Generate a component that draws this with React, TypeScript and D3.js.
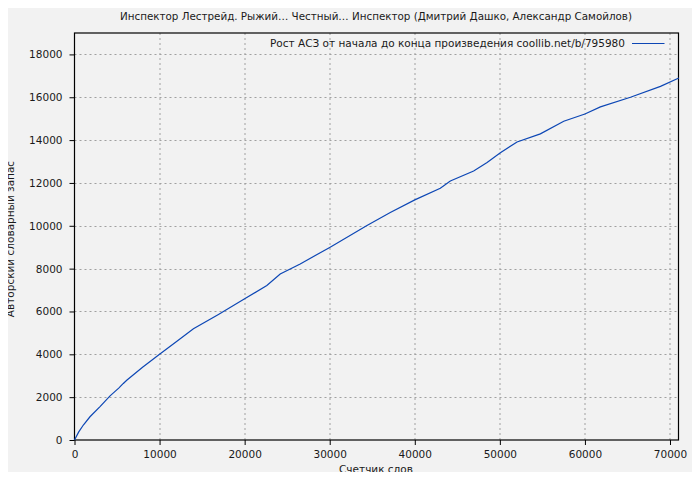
import React, { useEffect, useRef } from "react";
import * as d3 from "d3";

const title =
  "Инспектор Лестрейд. Рыжий… Честный… Инспектор (Дмитрий Дашко, Александр Самойлов)";
const legendLabel = "Рост АСЗ от начала до конца произведения coollib.net/b/795980";
const xLabel = "Счетчик слов";
const yLabel = "Авторский словарный запас";

// words counted so far -> distinct words
const wordCount = [
  0, 500, 1040, 1820, 3000, 4180, 5200, 5740, 6140, 8000, 10000, 12000,
  13980, 16920, 20000, 22610, 24180, 26530, 30000, 34380, 37120, 40000,
  43000, 44180, 46920, 48500, 50060, 52020, 54760, 57510, 60000, 61820,
  65350, 68880, 71040,
];
const vocabulary = [
  0, 380, 700, 1085, 1560, 2060, 2420, 2640, 2790, 3400, 4000, 4600,
  5190, 5860, 6590, 7210, 7750, 8220, 8990, 10010, 10620, 11210,
  11750, 12090, 12560, 12950, 13410, 13910, 14290, 14880, 15220, 15550,
  16000, 16510, 16900,
];

const xTicks = [0, 10000, 20000, 30000, 40000, 50000, 60000, 70000];
const yTicks = [0, 2000, 4000, 6000, 8000, 10000, 12000, 14000, 16000, 18000];

const App: React.FC = () => {
  const svgRef = useRef<SVGSVGElement | null>(null);

  useEffect(() => {
    if (!svgRef.current) return;
    const svg = d3.select(svgRef.current);
    svg.selectAll("*").remove();

    const width = 700;
    const height = 480;
    const margin = { top: 33, right: 21.5, bottom: 40, left: 74.5 };
    const innerWidth = width - margin.left - margin.right;
    const innerHeight = height - margin.top - margin.bottom;
    const font = "DejaVu Sans, sans-serif";
    const fontSize = 10.5;
    const ink = "#1a1a1a";
    const blue = "#0d47b5";

    svg.attr("width", width).attr("height", height).style("display", "block");
    svg.append("rect").attr("width", width).attr("height", height).attr("fill", "#f2f2f2");

    const g = svg.append("g").attr("transform", `translate(${margin.left},${margin.top})`);

    const x = d3.scaleLinear().domain([0, 71000]).range([0, innerWidth]);
    const y = d3.scaleLinear().domain([0, 19000]).range([innerHeight, 0]);

    // grid
    g.append("g")
      .selectAll("line")
      .data(xTicks.slice(1))
      .enter()
      .append("line")
      .attr("x1", (d) => Math.round(x(d)) + 0.5)
      .attr("x2", (d) => Math.round(x(d)) + 0.5)
      .attr("y1", 0)
      .attr("y2", innerHeight)
      .attr("stroke", "#a0a0a0")
      .attr("stroke-dasharray", "2,3");
    g.append("g")
      .selectAll("line")
      .data(yTicks.slice(1))
      .enter()
      .append("line")
      .attr("x1", 0)
      .attr("x2", innerWidth)
      .attr("y1", (d) => Math.round(y(d)) + 0.5)
      .attr("y2", (d) => Math.round(y(d)) + 0.5)
      .attr("stroke", "#a0a0a0")
      .attr("stroke-dasharray", "2,3");

    // axes
    const xAxis = d3.axisBottom(x).tickValues(xTicks).tickSize(5).tickFormat((d) => `${d}`);
    const yAxis = d3.axisLeft(y).tickValues(yTicks).tickSize(5).tickFormat((d) => `${d}`);
    const xg = g.append("g").attr("transform", `translate(0,${innerHeight})`).call(xAxis);
    const yg = g.append("g").call(yAxis);
    [xg, yg].forEach((a) => {
      a.select(".domain").remove();
      a.selectAll("line").attr("stroke", "#000");
      a.selectAll("text").attr("font-family", font).attr("font-size", fontSize).attr("fill", ink);
    });
    xg.selectAll("text").attr("dy", "0.98em");
    yg.selectAll("text").attr("x", -12);

    // frame
    g.append("rect")
      .attr("x", 0)
      .attr("y", 0)
      .attr("width", innerWidth)
      .attr("height", innerHeight)
      .attr("fill", "none")
      .attr("stroke", "#000")
      .attr("stroke-width", 1.2);

    // data line
    const points = wordCount.map((w, i) => [w, vocabulary[i]] as [number, number]);
    const line = d3
      .line<[number, number]>()
      .x((d) => x(d[0]))
      .y((d) => y(d[1]));
    g.append("path")
      .datum(points)
      .attr("fill", "none")
      .attr("stroke", blue)
      .attr("stroke-width", 1.2)
      .attr("d", line);

    // legend
    g.append("text")
      .attr("x", 550.5)
      .attr("y", 14)
      .attr("text-anchor", "end")
      .attr("font-family", font)
      .attr("font-size", fontSize)
      .attr("textLength", 355)
      .attr("lengthAdjust", "spacingAndGlyphs")
      .attr("fill", ink)
      .text(legendLabel);
    g.append("line")
      .attr("x1", 557.5)
      .attr("x2", 590)
      .attr("y1", 10.5)
      .attr("y2", 10.5)
      .attr("stroke", blue)
      .attr("stroke-width", 1.2);

    // titles
    svg.append("text")
      .attr("x", 376)
      .attr("y", 20)
      .attr("text-anchor", "middle")
      .attr("font-family", font)
      .attr("font-size", fontSize)
      .attr("textLength", 512)
      .attr("lengthAdjust", "spacingAndGlyphs")
      .attr("fill", ink)
      .text(title);
    svg.append("text")
      .attr("x", 376)
      .attr("y", 473)
      .attr("text-anchor", "middle")
      .attr("font-family", font)
      .attr("font-size", fontSize)
      .attr("fill", ink)
      .text(xLabel);
    svg.append("text")
      .attr("transform", `translate(14,239) rotate(-90)`)
      .attr("text-anchor", "middle")
      .attr("font-family", font)
      .attr("font-size", fontSize)
      .attr("fill", ink)
      .text(yLabel);
  }, []);

  return (
    <div style={{ margin: -8 }}>
      <svg ref={svgRef}></svg>
    </div>
  );
};

export default App;
